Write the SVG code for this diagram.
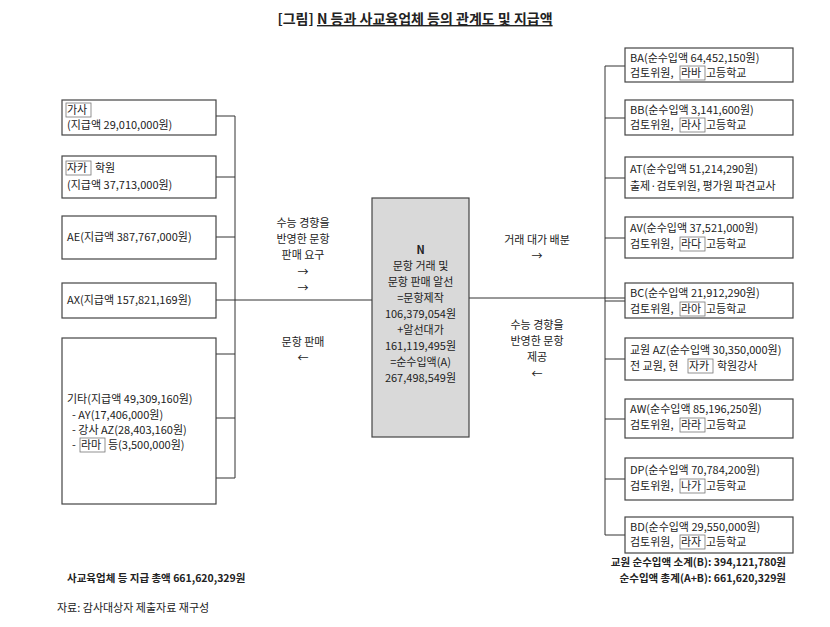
<svg xmlns="http://www.w3.org/2000/svg" width="830" height="627" viewBox="0 0 830 627">
<style>
text{font-family:"Noto Sans CJK KR","Liberation Sans",sans-serif;font-size:11px;fill:#222}
.b{fill:#fff;stroke:#444;stroke-width:1.2}
.m{fill:none;stroke:#777;stroke-width:0.8}
.l{fill:none;stroke:#333;stroke-width:1}
.c{text-anchor:middle}
.t{font-weight:bold;font-size:14px}
.s{font-weight:bold;font-size:10.5px}
</style>
<rect width="830" height="627" fill="#fff"/>
<text class="t c" x="415" y="24">[그림] <tspan text-decoration="underline">N 등과 사교육업체 등의 관계도 및 지급액</tspan></text>
<g id="connectors" class="l">
<path d="M216 116H235M216 177H235M216 237H235M216 300H372M216 354H235M216 418H235M216 478H235M235 116V478"/>
<path d="M469 298H625M605 66V535M605 66H625M605 118H625M605 178H625M605 238H625M605 301H625M605 359H625M605 419H625M605 479H625M605 535H625"/>
</g>
<g id="left1"><rect class="b" x="62" y="100" width="154" height="35"/><rect class="m" x="66" y="103" width="25" height="14"/><text x="67" y="114">가사</text><text x="67" y="129">(지급액 29,010,000원)</text></g>
<g id="left2"><rect class="b" x="62" y="156" width="154" height="42"/><rect class="m" x="66" y="161" width="25" height="14"/><text x="67" y="172">자카</text><text x="95" y="172">학원</text><text x="67" y="189">(지급액 37,713,000원)</text></g>
<g id="left3"><rect class="b" x="62" y="216" width="154" height="43"/><text x="67" y="241">AE(지급액 387,767,000원)</text></g>
<g id="left4"><rect class="b" x="62" y="283" width="154" height="35"/><text x="67" y="304">AX(지급액 157,821,169원)</text></g>
<g id="left5"><rect class="b" x="62" y="338" width="154" height="166"/><text x="67" y="403">기타(지급액 49,309,160원)</text><text x="72" y="419">- AY(17,406,000원)</text><text x="72" y="434">- 강사 AZ(28,403,160원)</text><text x="72" y="449">-</text><rect class="m" x="80" y="438" width="25" height="14"/><text x="81" y="449">라마</text><text x="108" y="449">등(3,500,000원)</text></g>
<g id="center"><rect x="372" y="198" width="97" height="239" fill="#d9d9d9" stroke="#444" stroke-width="1.2"/>
<text class="c" x="420.5" y="254" font-weight="bold">N</text>
<text class="c" x="420.5" y="270">문항 거래 및</text><text class="c" x="420.5" y="286">문항 판매 알선</text><text class="c" x="420.5" y="302">=문항제작</text><text class="c" x="420.5" y="318">106,379,054원</text><text class="c" x="420.5" y="334">+알선대가</text><text class="c" x="420.5" y="350">161,119,495원</text><text class="c" x="420.5" y="366">=순수입액(A)</text><text class="c" x="420.5" y="382">267,498,549원</text></g>
<g id="labels">
<text class="c" x="303" y="227">수능 경향을</text><text class="c" x="303" y="243">반영한 문항</text><text class="c" x="303" y="259">판매 요구</text><text class="c" x="303" y="276">→</text><text class="c" x="303" y="292">→</text>
<text class="c" x="303" y="346">문항 판매</text><text class="c" x="303" y="362">←</text>
<text class="c" x="537" y="244">거래 대가 배분</text><text class="c" x="537" y="260">→</text>
<text class="c" x="537" y="329">수능 경향을</text><text class="c" x="537" y="345">반영한 문항</text><text class="c" x="537" y="361">제공</text><text class="c" x="537" y="378">←</text>
</g>
<g id="r1"><rect class="b" x="625" y="48" width="168" height="34"/><text x="630" y="62">BA(순수입액 64,452,150원)</text><text x="630" y="77">검토위원,</text><rect class="m" x="680" y="66" width="25" height="14"/><text x="681" y="77">라바</text><text x="706" y="77">고등학교</text></g>
<g id="r2"><rect class="b" x="625" y="100" width="168" height="35"/><text x="630" y="114">BB(순수입액 3,141,600원)</text><text x="630" y="129">검토위원,</text><rect class="m" x="680" y="118" width="25" height="14"/><text x="681" y="129">라사</text><text x="706" y="129">고등학교</text></g>
<g id="r3"><rect class="b" x="625" y="157" width="168" height="41"/><text x="630" y="173">AT(순수입액 51,214,290원)</text><text x="630" y="190">출제·검토위원, 평가원 파견교사</text></g>
<g id="r4"><rect class="b" x="625" y="217" width="168" height="41"/><text x="630" y="232">AV(순수입액 37,521,000원)</text><text x="630" y="248">검토위원,</text><rect class="m" x="680" y="237" width="25" height="14"/><text x="681" y="248">라다</text><text x="706" y="248">고등학교</text></g>
<g id="r5"><rect class="b" x="625" y="283" width="168" height="35"/><text x="630" y="297">BC(순수입액 21,912,290원)</text><text x="630" y="313">검토위원,</text><rect class="m" x="680" y="302" width="25" height="14"/><text x="681" y="313">라아</text><text x="706" y="313">고등학교</text></g>
<g id="r6"><rect class="b" x="625" y="338" width="168" height="42"/><text x="630" y="354">교원 AZ(순수입액 30,350,000원)</text><text x="630" y="370">전 교원, 현</text><rect class="m" x="688" y="359" width="25" height="14"/><text x="689" y="370">자카</text><text x="717" y="370">학원강사</text></g>
<g id="r7"><rect class="b" x="625" y="399" width="168" height="39"/><text x="630" y="413">AW(순수입액 85,196,250원)</text><text x="630" y="429">검토위원,</text><rect class="m" x="680" y="418" width="25" height="14"/><text x="681" y="429">라라</text><text x="706" y="429">고등학교</text></g>
<g id="r8"><rect class="b" x="625" y="458" width="168" height="42"/><text x="630" y="474">DP(순수입액 70,784,200원)</text><text x="630" y="490">검토위원,</text><rect class="m" x="680" y="479" width="25" height="14"/><text x="681" y="490">나가</text><text x="706" y="490">고등학교</text></g>
<g id="r9"><rect class="b" x="625" y="517" width="168" height="36"/><text x="630" y="531">BD(순수입액 29,550,000원)</text><text x="630" y="546">검토위원,</text><rect class="m" x="680" y="535" width="25" height="14"/><text x="681" y="546">라자</text><text x="706" y="546">고등학교</text></g>
<text class="s" x="786" y="566" text-anchor="end">교원 순수입액 소계(B): 394,121,780원</text>
<text class="s" x="786" y="582" text-anchor="end">순수입액 총계(A+B): 661,620,329원</text>
<text class="s" x="67" y="582">사교육업체 등 지급 총액 661,620,329원</text>
<text x="57" y="612" font-size="12">자료: 감사대상자 제출자료 재구성</text>
</svg>
